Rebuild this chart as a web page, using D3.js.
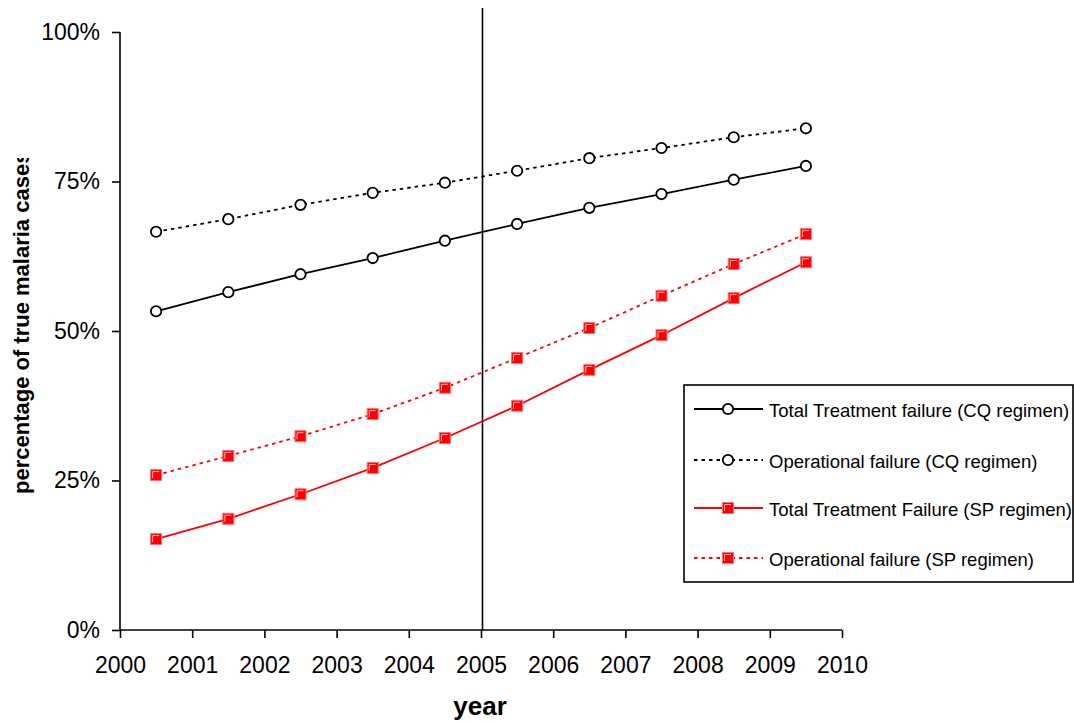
<!DOCTYPE html>
<html>
<head>
<meta charset="utf-8">
<script src="https://cdn.jsdelivr.net/npm/d3@7"></script>
<style>
  html, body { margin: 0; padding: 0; background: #fff; }
  svg { display: block; font-family: Arial, "Liberation Sans", sans-serif; }
</style>
</head>
<body>
<svg id="chart" width="1074" height="722"></svg>
<script>
// Mid-year points for each year 2000..2009
const years = [2000.5, 2001.5, 2002.5, 2003.5, 2004.5, 2005.5, 2006.5, 2007.5, 2008.5, 2009.5];

// Percentages of true malaria cases
const totalCQ = [53.3, 56.5, 59.5, 62.2, 65.1, 67.9, 70.6, 72.9, 75.3, 77.6];
const operCQ  = [66.6, 68.7, 71.1, 73.1, 74.8, 76.8, 78.9, 80.6, 82.4, 83.9];
const totalSP = [15.2, 18.6, 22.7, 27.1, 32.1, 37.5, 43.5, 49.3, 55.5, 61.5];
const operSP  = [25.9, 29.1, 32.4, 36.1, 40.5, 45.5, 50.5, 55.9, 61.2, 66.2];

const xTicks = [2000, 2001, 2002, 2003, 2004, 2005, 2006, 2007, 2008, 2009, 2010];
const yTicks = [0, 25, 50, 75, 100];
const policyYear = 2005;

const seriesNames = [
  "Total Treatment failure (CQ regimen)",
  "Operational failure (CQ regimen)",
  "Total Treatment Failure (SP regimen)",
  "Operational failure (SP regimen)"
];

const series = [
  { name: seriesNames[0], values: totalCQ, color: "#000", dash: null, marker: "circle" },
  { name: seriesNames[1], values: operCQ,  color: "#000", dash: "3.5,4", marker: "circle" },
  { name: seriesNames[2], values: totalSP, color: "#ff0000", dash: null, marker: "square" },
  { name: seriesNames[3], values: operSP,  color: "#ff0000", dash: "3.5,4", marker: "square" }
];

const svg = d3.select("#chart");
const plotLeft = 120, plotRight = 842, plotTop = 32, plotBottom = 630;

const x = d3.scaleLinear().domain([2000, 2010]).range([plotLeft, plotRight]);
const y = d3.scaleLinear().domain([0, 100]).range([plotBottom, plotTop]);

// Axes
const yAxis = svg.append("g")
  .attr("transform", `translate(${plotLeft},0)`)
  .call(d3.axisLeft(y).tickValues(yTicks).tickSize(8).tickPadding(12).tickFormat(d => d + "%"));
const xAxis = svg.append("g")
  .attr("transform", `translate(0,${plotBottom})`)
  .call(d3.axisBottom(x).tickValues(xTicks).tickSize(8).tickPadding(19).tickFormat(d3.format("d")));
[xAxis, yAxis].forEach(g => {
  g.attr("font-size", null).attr("font-family", null);
  g.select(".domain").attr("stroke", "#000").attr("stroke-width", 1.6);
  g.selectAll(".tick line").attr("stroke", "#000").attr("stroke-width", 1.6);
  g.selectAll(".tick text").attr("fill", "#000").style("font-size", "23px");
});
// Plain domain lines without end caps
yAxis.select(".domain").attr("d", `M0,${plotBottom}V${plotTop}`);
xAxis.select(".domain").attr("d", `M${plotLeft},0H${plotRight}`);

// Vertical marker at 2005
svg.append("line")
  .attr("x1", x(policyYear) + 1.5).attr("x2", x(policyYear) + 1.5)
  .attr("y1", 8).attr("y2", plotBottom)
  .attr("stroke", "#000").attr("stroke-width", 1.6);

// Axis titles
svg.append("text")
  .attr("x", 480).attr("y", 715)
  .attr("text-anchor", "middle")
  .style("font-size", "26px").style("font-weight", "bold")
  .text("year");

svg.append("clipPath").attr("id", "ytitle-clip")
  .append("rect").attr("x", 0).attr("y", 158).attr("width", 60).attr("height", 500);
svg.append("g").attr("clip-path", "url(#ytitle-clip)")
  .append("text")
  .attr("transform", "translate(28.5,494) rotate(-90)")
  .attr("text-anchor", "start")
  .style("font-size", "22px").style("font-weight", "bold")
  .text("percentage of true malaria cases");

// Lines
const line = d3.line().x((d, i) => x(years[i])).y(d => y(d));

function drawMarker(g, type, color, cx, cy) {
  if (type === "circle") {
    g.append("circle").attr("cx", cx).attr("cy", cy).attr("r", 5.2)
      .attr("fill", "#fff").attr("stroke", "#000").attr("stroke-width", 1.8);
  } else {
    g.append("rect").attr("x", cx - 5.5).attr("y", cy - 5.5).attr("width", 11).attr("height", 11)
      .attr("fill", color).attr("stroke", "#ff7070").attr("stroke-width", 1);
    g.append("path").attr("d", `M${cx - 3.5},${cy + 3}V${cy - 3.5}H${cx + 3}`)
      .attr("fill", "none").attr("stroke", "#ffb0b0").attr("stroke-width", 1);
  }
}

series.forEach(s => {
  const g = svg.append("g");
  g.append("path").datum(s.values)
    .attr("d", line)
    .attr("fill", "none")
    .attr("stroke", s.color)
    .attr("stroke-width", 1.8)
    .attr("stroke-dasharray", s.dash);
  s.values.forEach((v, i) => drawMarker(g, s.marker, s.color, x(years[i]), y(v)));
});

// Legend
const lg = svg.append("g");
lg.append("rect").attr("x", 684).attr("y", 385).attr("width", 389).attr("height", 197)
  .attr("fill", "#fff").attr("stroke", "#000").attr("stroke-width", 1.6);
const rowY = [409, 460, 508, 558];
series.forEach((s, i) => {
  const ry = rowY[i];
  lg.append("line").attr("x1", 694).attr("x2", 763).attr("y1", ry).attr("y2", ry)
    .attr("stroke", s.color).attr("stroke-width", 1.8).attr("stroke-dasharray", s.dash);
  drawMarker(lg, s.marker, s.color, 728, ry);
  lg.append("text").attr("x", 769).attr("y", ry + 8)
    .style("font-size", "18.5px").attr("fill", "#000")
    .text(s.name);
});
</script>
</body>
</html>
